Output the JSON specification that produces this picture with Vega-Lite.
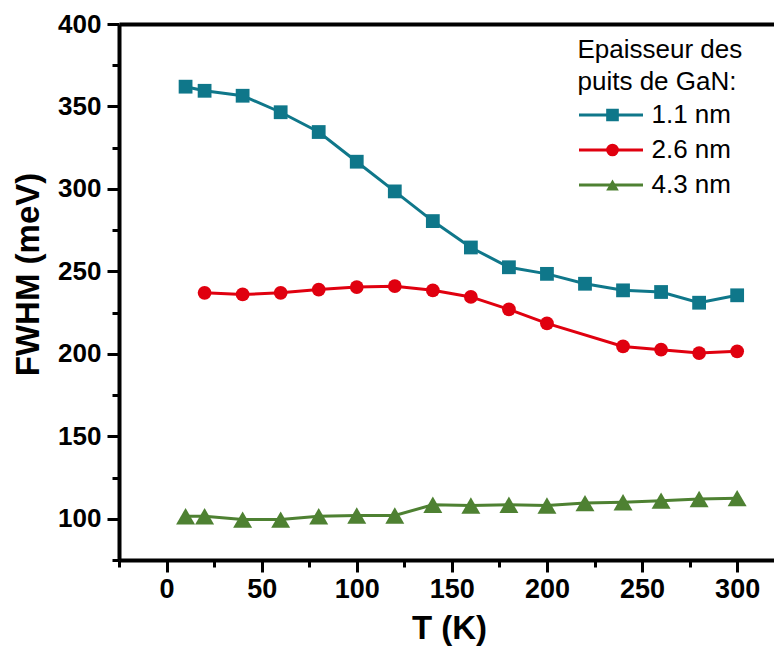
{
  "$schema": "https://vega.github.io/schema/vega-lite/v6.json",
  "width": 660,
  "height": 536,
  "autosize": {"type": "none"},
  "padding": {"left": 119, "top": 24, "right": 0, "bottom": 88},
  "background": "white",
  "config": {"view": {"stroke": null}, "font": "Liberation Sans"},
  "data": {
    "values": [
      {"T": 10, "FWHM": 362, "series": "1.1 nm"},
      {"T": 20, "FWHM": 359.5, "series": "1.1 nm"},
      {"T": 40, "FWHM": 356.5, "series": "1.1 nm"},
      {"T": 60, "FWHM": 346.5, "series": "1.1 nm"},
      {"T": 80, "FWHM": 334.5, "series": "1.1 nm"},
      {"T": 100, "FWHM": 316.5, "series": "1.1 nm"},
      {"T": 120, "FWHM": 298.5, "series": "1.1 nm"},
      {"T": 140, "FWHM": 280.5, "series": "1.1 nm"},
      {"T": 160, "FWHM": 264.5, "series": "1.1 nm"},
      {"T": 180, "FWHM": 252.5, "series": "1.1 nm"},
      {"T": 200, "FWHM": 248.5, "series": "1.1 nm"},
      {"T": 220, "FWHM": 242.5, "series": "1.1 nm"},
      {"T": 240, "FWHM": 238.5, "series": "1.1 nm"},
      {"T": 260, "FWHM": 237.5, "series": "1.1 nm"},
      {"T": 280, "FWHM": 231, "series": "1.1 nm"},
      {"T": 300, "FWHM": 235.5, "series": "1.1 nm"},
      {"T": 20, "FWHM": 237, "series": "2.6 nm"},
      {"T": 40, "FWHM": 236, "series": "2.6 nm"},
      {"T": 60, "FWHM": 237, "series": "2.6 nm"},
      {"T": 80, "FWHM": 239, "series": "2.6 nm"},
      {"T": 100, "FWHM": 240.5, "series": "2.6 nm"},
      {"T": 120, "FWHM": 241, "series": "2.6 nm"},
      {"T": 140, "FWHM": 238.5, "series": "2.6 nm"},
      {"T": 160, "FWHM": 234.5, "series": "2.6 nm"},
      {"T": 180, "FWHM": 227, "series": "2.6 nm"},
      {"T": 200, "FWHM": 218.5, "series": "2.6 nm"},
      {"T": 240, "FWHM": 204.5, "series": "2.6 nm"},
      {"T": 260, "FWHM": 202.5, "series": "2.6 nm"},
      {"T": 280, "FWHM": 200.5, "series": "2.6 nm"},
      {"T": 300, "FWHM": 201.5, "series": "2.6 nm"},
      {"T": 10, "FWHM": 101.5, "series": "4.3 nm"},
      {"T": 20, "FWHM": 101.5, "series": "4.3 nm"},
      {"T": 40, "FWHM": 99.5, "series": "4.3 nm"},
      {"T": 60, "FWHM": 99.5, "series": "4.3 nm"},
      {"T": 80, "FWHM": 101.5, "series": "4.3 nm"},
      {"T": 100, "FWHM": 102, "series": "4.3 nm"},
      {"T": 120, "FWHM": 102, "series": "4.3 nm"},
      {"T": 140, "FWHM": 108.5, "series": "4.3 nm"},
      {"T": 160, "FWHM": 108, "series": "4.3 nm"},
      {"T": 180, "FWHM": 108.5, "series": "4.3 nm"},
      {"T": 200, "FWHM": 108, "series": "4.3 nm"},
      {"T": 220, "FWHM": 109.5, "series": "4.3 nm"},
      {"T": 240, "FWHM": 110, "series": "4.3 nm"},
      {"T": 260, "FWHM": 111, "series": "4.3 nm"},
      {"T": 280, "FWHM": 112, "series": "4.3 nm"},
      {"T": 300, "FWHM": 112.5, "series": "4.3 nm"}
    ]
  },
  "layer": [
    {
      "mark": {"type": "line", "strokeWidth": 3},
      "encoding": {
        "x": {
          "field": "T", "type": "quantitative",
          "scale": {"domain": [-25, 322], "nice": false, "zero": false},
          "axis": {
            "orient": "bottom",
            "values": [-25, 0, 25, 50, 75, 100, 125, 150, 175, 200, 225, 250, 275, 300],
            "labelExpr": "datum.value % 50 === 0 ? datum.label : ''",
            "labelOverlap": false,
            "tickSize": {"condition": {"test": "datum.value % 50 === 0", "value": 12}, "value": 7},
            "tickWidth": 3, "tickColor": "black",
            "domainWidth": 4, "domainColor": "black",
            "grid": false,
            "labelFont": "Liberation Sans", "labelFontSize": 27, "labelFontWeight": "bold", "labelColor": "black",
            "labelPadding": 4, "labelFlush": false,
            "title": "T (K)", "titleFont": "Liberation Sans", "titleFontSize": 33, "titleFontWeight": "bold", "titleColor": "black",
            "titleY": 78, "titleBaseline": "alphabetic"
          }
        },
        "y": {
          "field": "FWHM", "type": "quantitative",
          "scale": {"domain": [75, 400], "nice": false, "zero": false},
          "axis": {
            "orient": "left",
            "values": [75, 100, 125, 150, 175, 200, 225, 250, 275, 300, 325, 350, 375, 400],
            "labelExpr": "datum.value % 50 === 0 ? datum.label : ''",
            "labelOverlap": false,
            "tickSize": {"condition": {"test": "datum.value % 50 === 0", "value": 12}, "value": 7},
            "tickWidth": 3, "tickColor": "black",
            "domainWidth": 4, "domainColor": "black",
            "grid": false,
            "labelFont": "Liberation Sans", "labelFontSize": 26, "labelFontWeight": "bold", "labelColor": "black",
            "labelPadding": 6, "labelFlush": false,
            "title": "FWHM (meV)", "titleFont": "Liberation Sans", "titleFontSize": 33, "titleFontWeight": "bold", "titleColor": "black",
            "titleAngle": 270, "titleX": -91, "titleY": 250, "titleAlign": "center", "titleBaseline": "middle"
          }
        },
        "color": {
          "field": "series", "type": "nominal",
          "scale": {"domain": ["1.1 nm", "2.6 nm", "4.3 nm"], "range": ["#0f778a", "#e0000f", "#4e8132"]},
          "legend": {
            "orient": "none", "legendX": 458.5, "legendY": 13, "padding": 0,
            "title": ["Epaisseur des", "puits de GaN:"],
            "titleFont": "Liberation Sans", "titleFontSize": 26, "titleFontWeight": "normal", "titleColor": "black", "titleLineHeight": 32, "titlePadding": 8,
            "labelFont": "Liberation Sans", "labelFontSize": 26, "labelColor": "black", "labelOffset": 7,
            "symbolType": "stroke", "symbolSize": 4096, "symbolStrokeWidth": 3, "rowPadding": 9, "clipHeight": 24
          }
        }
      }
    },
    {
      "mark": {"type": "point", "filled": true, "opacity": 1},
      "encoding": {
        "x": {
          "field": "T", "type": "quantitative",
          "axis": {"orient": "top", "domain": true, "domainWidth": 4, "domainColor": "black", "ticks": false, "labels": false, "grid": false, "title": null}
        },
        "y": {"field": "FWHM", "type": "quantitative", "axis": null},
        "size": {"condition": {"test": "datum.series === '4.3 nm'", "value": 360}, "value": 190},
        "color": {
          "field": "series", "type": "nominal",
          "scale": {"domain": ["1.1 nm", "2.6 nm", "4.3 nm"], "range": ["#0f778a", "#e0000f", "#4e8132"]},
          "legend": {
            "orient": "none", "legendX": 480.5, "legendY": 13, "padding": 0,
            "title": [" ", " "],
            "titleFont": "Liberation Sans", "titleFontSize": 26, "titleFontWeight": "normal", "titleColor": "black", "titleLineHeight": 32, "titlePadding": 8,
            "labelFont": "Liberation Sans", "labelFontSize": 26, "labelColor": "black", "labelOffset": 7, "labelExpr": "''",
            "symbolSize": 160, "symbolStrokeWidth": 0, "rowPadding": 9, "clipHeight": 24
          }
        },
        "shape": {
          "field": "series", "type": "nominal",
          "scale": {"domain": ["1.1 nm", "2.6 nm", "4.3 nm"], "range": ["square", "circle", "triangle-up"]},
          "legend": {
            "orient": "none", "legendX": 480.5, "legendY": 13, "padding": 0,
            "title": [" ", " "],
            "titleFont": "Liberation Sans", "titleFontSize": 26, "titleFontWeight": "normal", "titleColor": "black", "titleLineHeight": 32, "titlePadding": 8,
            "labelFont": "Liberation Sans", "labelFontSize": 26, "labelColor": "black", "labelOffset": 7, "labelExpr": "''",
            "symbolSize": 160, "symbolStrokeWidth": 0, "rowPadding": 9, "clipHeight": 24
          }
        }
      }
    }
  ],
  "resolve": {
    "scale": {"color": "independent", "shape": "independent"},
    "axis": {"x": "independent", "y": "independent"}
  }
}
